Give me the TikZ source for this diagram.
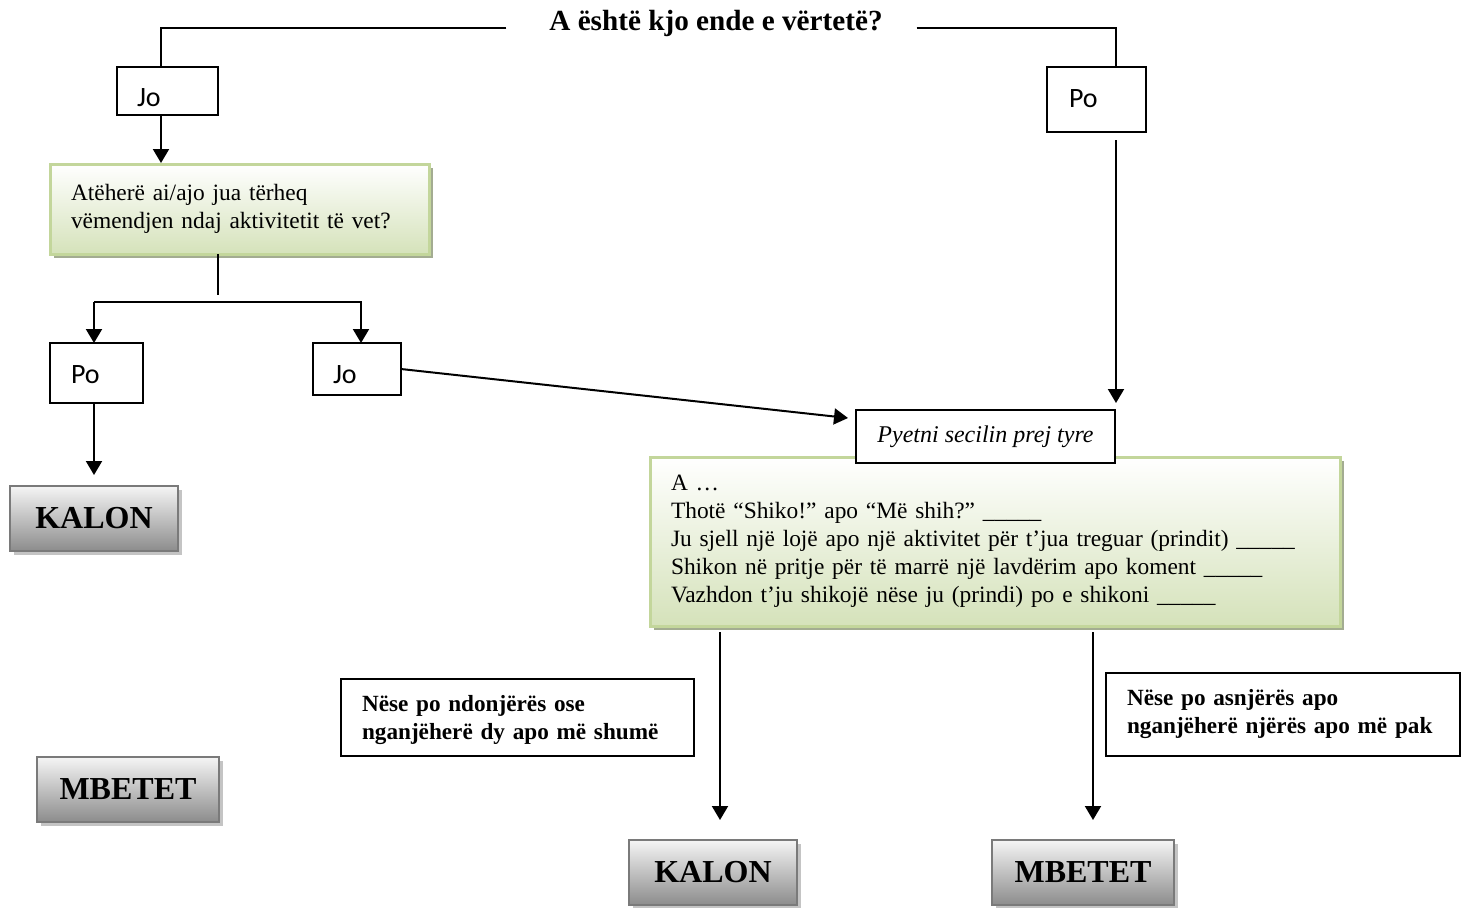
\documentclass[tikz,border=0pt]{standalone}
\usepackage{fontspec}
\setmainfont{Liberation Serif}
\newfontfamily\calibri{Carlito}
\usepackage{tikz}
\usetikzlibrary{arrows.meta,shadows,calc}
\frenchspacing

\definecolor{boxgreen}{HTML}{D5E2BA}
\definecolor{edgegreen}{HTML}{C3D69B}
\definecolor{shadegreen}{HTML}{A3AC91}
\definecolor{boxgray}{HTML}{8C8C8C}
\definecolor{edgegray}{HTML}{7A7A7A}
\definecolor{shadegray}{HTML}{C4C4C4}

\begin{document}
\begin{tikzpicture}[x=0.5pt, y=-0.5pt,
  every node/.style={inner sep=0pt, outer sep=0pt},
  line/.style={line width=1pt},
  arr/.style={line width=1pt, -{Triangle[width=8pt,length=7pt]}},
  answer/.style={draw, line width=0.9pt, anchor=north west, align=left, font=\calibri\fontsize{14}{16}\selectfont},
  note/.style={draw, line width=0.9pt, anchor=north west, align=left, inner xsep=10.5pt, font=\bfseries\fontsize{11.6}{14}\selectfont},
  greenbox/.style={draw=edgegreen, line width=1.5pt, anchor=north west, align=left, inner xsep=10.5pt,
    top color=white, bottom color=boxgreen, font=\fontsize{11.7}{14}\selectfont,
    drop shadow={shadow xshift=2pt, shadow yshift=-2pt, fill=shadegreen, opacity=1}},
  result/.style={draw=edgegray, line width=1.2pt, anchor=north west, align=center,
    minimum height=32.5pt, top color=white!96!black, bottom color=boxgray,
    font=\bfseries\fontsize{16}{19}\selectfont,
    drop shadow={shadow xshift=2pt, shadow yshift=-2pt, fill=shadegray, opacity=1}}
]
\useasboundingbox (0,0) rectangle (1468,907);

% question and first answers
\node (q) at (716,23) {\bfseries\fontsize{14.6}{17}\selectfont A është kjo ende e vërtetë?};
\node[answer, inner xsep=10pt, text width=30.5pt, text height=19.5pt, text depth=4.5pt] (jo1) at (117,67) {Jo};
\node[answer, inner xsep=11pt, text width=27.5pt, text height=20pt, text depth=12.5pt] (po1) at (1047,67) {Po};
\draw[line] ($(q.west)+(-43,5)$) -| ($(jo1.north)+(-6.5,0)$);
\draw[line] ($(q.east)+(34,5)$) -| ($(po1.north)+(19.5,0)$);

% left branch
\node[greenbox, text width=168.5pt, minimum height=45pt] (g1) at (50,164)
  {Atëherë ai/ajo jua tërheq\\vëmendjen ndaj aktivitetit të vet?};
\draw[arr] ($(jo1.south)+(-6.5,0)$) -- ($(jo1.south)+(-6.5,48)$);
\node[answer, inner xsep=10.5pt, text width=25.5pt, text height=20pt, text depth=10pt] (po2) at (50,343) {Po};
\node[answer, inner xsep=10pt, text width=24pt, text height=20pt, text depth=6pt] (jo2) at (313,343) {Jo};
\draw[line] ($(g1.south)+(-21.5,0)$) -- ++(0,41);
\draw[arr] ($(po2.north)+(-2.5,-41)$) -- ($(po2.north)+(-2.5,0)$);
\draw[arr] ($(po2.north)+(-2.5,-41)$) -| ($(jo2.north)+(4,0)$);
\node[result, minimum width=84pt] (k1) at (10,486) {KALON};
\draw[arr, shorten >=5.5pt] ($(po2.south)+(-2.5,0)$) -- ($(k1.north)+(0,0)$);
\node[result, minimum width=91pt] (m1) at (37,757) {MBETET};

% right branch
\node[greenbox, text width=324pt, minimum height=84.5pt] (g2) at (650,457)
  {A …\\
   Thotë “Shiko!” apo “Më shih?” \_\_\_\_\_\\
   Ju sjell një lojë apo një aktivitet për t’jua treguar (prindit) \_\_\_\_\_\\
   Shikon në pritje për të marrë një lavdërim apo koment \_\_\_\_\_\\
   Vazhdon t’ju shikojë nëse ju (prindi) po e shikoni \_\_\_\_\_};
\node[draw, line width=0.9pt, fill=white, anchor=north west, minimum width=129.5pt, minimum height=26.5pt,
  font=\itshape\fontsize{12}{14}\selectfont] (pyet) at (856,410) {Pyetni secilin prej tyre};
\draw[arr] (jo2.east) -- ($(pyet.north west)+(-8,8)$);
\draw[arr, shorten <=4pt, shorten >=3.5pt] ($(po1.south)+(19.5,0)$) -- ($(pyet.north east)+(1,0)$);

\node[note, text width=155.5pt, text height=16pt, text depth=22.5pt] (n1) at (341,679)
  {Nëse po ndonjërës ose\\nganjëherë dy apo më shumë};
\node[note, text width=156pt, text height=16pt, text depth=25.5pt] (n2) at (1106,673)
  {Nëse po asnjërës apo\\nganjëherë njërës apo më pak};
\node[result, minimum width=84pt] (k2) at (629,840) {KALON};
\node[result, minimum width=91pt] (m2) at (992,840) {MBETET};
\draw[arr] ($(g2.south west)+(70,6)$) -- ($(k2.north)+(7,-20)$);
\draw[arr] ($(g2.south west)+(443,6)$) -- ($(m2.north)+(10,-20)$);
\end{tikzpicture}
\end{document}
